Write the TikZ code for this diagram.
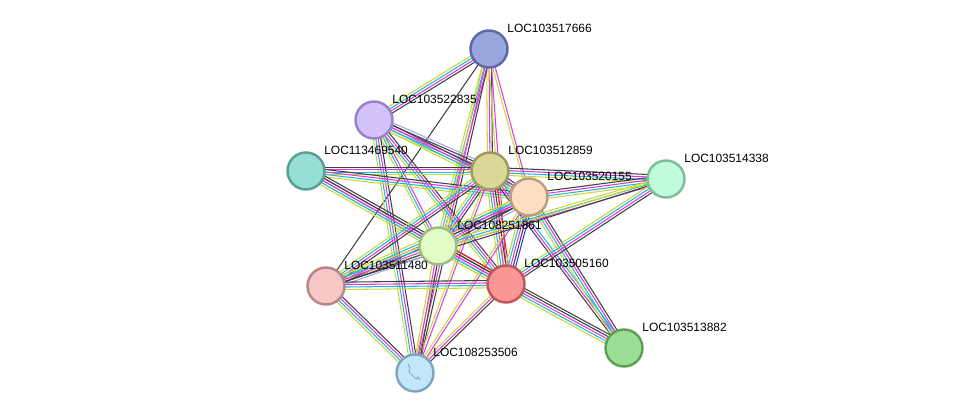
\documentclass[tikz,border=0pt]{standalone}
\usepackage{fontspec}
\setmainfont{Liberation Sans}
\usetikzlibrary{calc}

\definecolor{lyel}{HTML}{C4DA38}
\definecolor{lcya}{HTML}{22B8D8}
\definecolor{lmag}{HTML}{E038E0}
\definecolor{lblk}{HTML}{404040}
\definecolor{lblu}{HTML}{3333EE}
\definecolor{lred}{HTML}{EE2222}
\definecolor{llav}{HTML}{A4A4F6}

% one bundle of evidence lines between two proteins
\newcommand{\evid}[3]{%
  \foreach \c [count=\n] in {#3} {\global\let\nev\n}
  \foreach \c [count=\i] in {#3} {
    \pgfmathsetmacro\off{(\i-(\nev+1)/2)*1.4}
    \draw [\c, line width=0.6pt] ($(#1)!\off pt!90:(#2)$) -- ($(#2)!\off pt!-90:(#1)$);
  }
}

\begin{document}
\begin{tikzpicture}[x=0.02cm, y=-0.02cm, prot/.style={circle, line width=1.4pt, minimum size=0.74cm, inner sep=0pt}, lbl/.style={anchor=west, inner sep=0pt, font=\fontsize{6.8pt}{8pt}\selectfont}]

	\useasboundingbox (0,0) rectangle (976,419);

	% proteins
	\node [prot] (p666) at (489,49) {};
	\node [prot] (p835) at (374,120) {};
	\node [prot] (p540) at (306,171) {};
	\node [prot] (p859) at (490,171) {};
	\node [prot] (p155) at (529,197) {};
	\node [prot] (p338) at (666,179) {};
	\node [prot] (p861) at (438,246) {};
	\node [prot] (p480) at (326,286) {};
	\node [prot] (p160) at (506,284) {};
	\node [prot] (p882) at (624,348) {};
	\node [prot] (p506) at (415,373) {};

	% evidence lines
	\evid{p666}{p835}{lyel,lcya,lmag,lblk}
	\evid{p666}{p859}{lyel,lmag,lblk}
	\evid{p666}{p155}{lyel,lmag}
	\evid{p666}{p861}{lyel,lcya,lmag}
	\evid{p666}{p480}{lblk}
	\evid{p666}{p160}{lyel,lmag}
	\evid{p666}{p506}{lyel,lmag,lblk}
	\evid{p835}{p859}{lyel,lcya,lmag,lblk,llav}
	\evid{p835}{p155}{lyel,lcya,lmag,lblk}
	\evid{p835}{p861}{lyel,lcya,lmag}
	\evid{p835}{p160}{lyel,lcya,lmag,lblk}
	\evid{p835}{p506}{lyel,lcya,lmag,lblk}
	\evid{p540}{p859}{lyel,lcya,lmag,lblk}
	\evid{p540}{p155}{lyel,lcya,lmag,lblk}
	\evid{p540}{p861}{lyel,lcya,lmag}
	\evid{p540}{p160}{lyel,lcya,lmag,lblk,lblk}
	\evid{p859}{p155}{lyel,lcya,lmag,lblk}
	\evid{p859}{p861}{lyel,lcya,lmag,lblk}
	\evid{p859}{p480}{lyel,lcya,lmag,lblk}
	\evid{p859}{p160}{lyel,lcya,lmag,lblk,lred}
	\evid{p859}{p506}{lyel,lmag}
	\evid{p859}{p338}{lyel,lcya,lmag,lblk}
	\evid{p859}{p882}{lblk,lmag,lcya}
	\evid{p155}{p861}{lyel,lcya,lmag,lblk,llav}
	\evid{p155}{p480}{lyel,lcya,lmag,lblk}
	\evid{p155}{p160}{lyel,lcya,lmag,lblk,lblu}
	\evid{p155}{p882}{lyel,lcya,lmag,lblk}
	\evid{p155}{p506}{lyel,lmag}
	\evid{p155}{p338}{lyel,lcya,lmag,lblk}
	\evid{p338}{p861}{lyel,lcya,lmag}
	\evid{p338}{p480}{lyel,lblk}
	\evid{p338}{p160}{lyel,lcya,lmag,lblk}
	\evid{p861}{p480}{lyel,lcya,lmag,lblk,llav}
	\evid{p861}{p160}{lyel,lcya,lmag,lblk,lred}
	\evid{p861}{p506}{lyel,lmag,lblk}
	\evid{p480}{p160}{lyel,lcya,lmag,lblk}
	\evid{p480}{p506}{lyel,lcya,lmag,lblk}
	\evid{p160}{p882}{lyel,lcya,lmag,lblk,lblk}
	\evid{p160}{p506}{lyel,lmag,lblk}

	% circles on top
	\node [prot, fill={rgb,255:red,154;green,166;blue,222}, draw={rgb,255:red,94;green,103;blue,168}] at (p666) {};
	\node [prot, fill={rgb,255:red,211;green,194;blue,250}, draw={rgb,255:red,150;green,131;blue,201}] at (p835) {};
	\node [prot, fill={rgb,255:red,151;green,223;blue,212}, draw={rgb,255:red,90;green,158;blue,148}] at (p540) {};
	\node [prot, fill={rgb,255:red,218;green,216;blue,152}, draw={rgb,255:red,158;green,155;blue,94}] at (p859) {};
	\node [prot, fill={rgb,255:red,252;green,222;blue,192}, draw={rgb,255:red,186;green,156;blue,126}] at (p155) {};
	\node [prot, fill={rgb,255:red,192;green,251;blue,219}, draw={rgb,255:red,125;green,190;blue,152}] at (p338) {};
	\node [prot, fill={rgb,255:red,226;green,252;blue,198}, draw={rgb,255:red,161;green,186;blue,131}] at (p861) {};
	\node [prot, fill={rgb,255:red,247;green,198;blue,198}, draw={rgb,255:red,183;green,135;blue,135}] at (p480) {};
	\node [prot, fill={rgb,255:red,251;green,150;blue,150}, draw={rgb,255:red,194;green,87;blue,87}] at (p160) {};
	\node [prot, fill={rgb,255:red,158;green,221;blue,149}, draw={rgb,255:red,95;green,160;blue,85}] at (p882) {};
	\node [prot, fill={rgb,255:red,194;green,231;blue,251}, draw={rgb,255:red,127;green,166;blue,192}] at (p506) {};
	\draw [color={rgb,255:red,120;green,150;blue,190}, line width=0.4pt] ($(p506)+(-7,-9)$) -- ($(p506)+(-5,-5)$) -- ($(p506)+(-6,-1)$) -- ($(p506)+(-2,3)$) -- ($(p506)+(1,6)$) -- ($(p506)+(3,4)$) -- ($(p506)+(5,7)$);

	% names
	\node [lbl] (t666) at ($(p666)+(18,-21)$) {LOC103517666};
	\node [lbl] (t835) at ($(p835)+(18,-21)$) {LOC103522835};
	\node [lbl] (t540) at ($(p540)+(18,-21)$) {LOC113469540};
	\node [lbl] (t859) at ($(p859)+(18,-21)$) {LOC103512859};
	\node [lbl] (t155) at ($(p155)+(18,-21)$) {LOC103520155};
	\node [lbl] (t338) at ($(p338)+(18,-21)$) {LOC103514338};
	\node [lbl] (t861) at ($(p861)+(19,-21)$) {LOC108251861};
	\node [lbl] (t480) at ($(p480)+(18,-21)$) {LOC103511480};
	\node [lbl] (t160) at ($(p160)+(18,-21)$) {LOC103505160};
	\node [lbl] (t882) at ($(p882)+(18,-21)$) {LOC103513882};
	\node [lbl] (t506) at ($(p506)+(18,-21)$) {LOC108253506};

\end{tikzpicture}
\end{document}
